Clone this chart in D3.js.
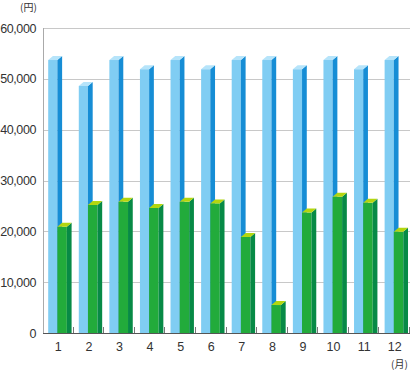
<!DOCTYPE html>
<meta charset="utf-8">
<style>
  body { margin: 0; background: #fff; }
  text { font-family: "Liberation Sans", Arial, sans-serif; fill: #333; }
  .grid line { stroke: #c8c8c8; stroke-width: 1; }
</style>
<body>
<div id="chart"></div>
<script src="https://d3js.org/d3.v7.min.js"></script>
<script>
// months and the two series (yen)
var months = ["1", "2", "3", "4", "5", "6", "7", "8", "9", "10", "11", "12"];
var blueValues = [53700, 48600, 53700, 51900, 53700, 51900, 53700, 53700, 51900, 53700, 51900, 53700];
var greenValues = [20900, 25200, 25800, 24600, 25800, 25500, 18900, 5500, 23700, 26800, 25600, 19900];
var yTicks = [0, 10000, 20000, 30000, 40000, 50000, 60000];

var width = 420,
    height = 374;

var svg = d3.select("#chart").append("svg")
    .attr("width", width)
    .attr("height", height);

var x = d3.scaleBand()
    .domain(months)
    .range([43, 410]);

var y = d3.scaleLinear()
    .domain([0, 60000])
    .range([333, 28]);

var bw = x.bandwidth();
var dx = bw * 0.155, dy = 4;

// gridlines
svg.append("g")
    .attr("class", "grid")
  .selectAll("line")
    .data(yTicks.slice(1))
  .enter().append("line")
    .attr("x1", 43)
    .attr("x2", 410)
    .attr("y1", function(d) { return Math.round(y(d)) + 0.5; })
    .attr("y2", function(d) { return Math.round(y(d)) + 0.5; });

// y labels
svg.append("g")
  .selectAll("text")
    .data(yTicks)
  .enter().append("text")
    .attr("x", 36)
    .attr("y", function(d) { return y(d); })
    .attr("dy", "0.36em")
    .attr("text-anchor", "end")
    .style("font-size", "12.5px")
    .style("letter-spacing", "-0.4px")
    .text(function(d) { return d3.format(",")(d); });

// a 3D-looking bar: front, side, top
function bar3d(g, x0, w, v, cFront, cSide, cTop) {
  var yt = y(v), yb = y(0);
  g.append("rect")
      .attr("x", x0).attr("y", yt)
      .attr("width", w).attr("height", yb - yt)
      .attr("fill", cFront);
  g.append("polygon")
      .attr("points", [[x0 + w, yt], [x0 + w + dx, yt - dy], [x0 + w + dx, yb], [x0 + w, yb]].join(" "))
      .attr("fill", cSide);
  g.append("polygon")
      .attr("points", [[x0, yt], [x0 + dx, yt - dy], [x0 + w + dx, yt - dy], [x0 + w, yt]].join(" "))
      .attr("fill", cTop);
}

var bars = svg.append("g");
months.forEach(function(m, i) {
  var x0 = x(m);
  var g = bars.append("g");
  bar3d(g, x0 + bw * 0.17, bw * 0.3, blueValues[i], "#80cdf3", "#168dd5", "#b6e4fa");
  bar3d(g, x0 + bw * 0.47, bw * 0.31, greenValues[i], "#22ab3b", "#078a46", "#b4d60f");
});

// y axis line
svg.append("line")
    .attr("x1", 43.5).attr("x2", 43.5)
    .attr("y1", y(60000)).attr("y2", y(0))
    .attr("stroke", "#aaa");

// baseline
svg.append("line")
    .attr("x1", 43).attr("x2", 410)
    .attr("y1", y(0) + 0.5).attr("y2", y(0) + 0.5)
    .attr("stroke", "#555");

// small ticks between months
svg.append("g")
  .selectAll("line")
    .data(months)
  .enter().append("line")
    .attr("x1", function(d) { return Math.round(x(d) + bw) - 0.5; })
    .attr("x2", function(d) { return Math.round(x(d) + bw) - 0.5; })
    .attr("y1", y(0) - 6)
    .attr("y2", y(0))
    .attr("stroke", "#777");

// x labels
svg.append("g")
  .selectAll("text")
    .data(months)
  .enter().append("text")
    .attr("x", function(d) { return x(d) + bw / 2; })
    .attr("y", 351)
    .attr("text-anchor", "middle")
    .style("font-size", "12.5px")
    .text(function(d) { return d; });

// unit labels
svg.append("text")
    .attr("x", 20).attr("y", 11)
    .style("font-size", "10px")
    .style("font-family", "'Noto Sans CJK JP', sans-serif")
    .text("(円)");

svg.append("text")
    .attr("x", 391).attr("y", 368)
    .style("font-size", "10px")
    .style("font-family", "'Noto Sans CJK JP', sans-serif")
    .text("(月)");
</script>
</body>
